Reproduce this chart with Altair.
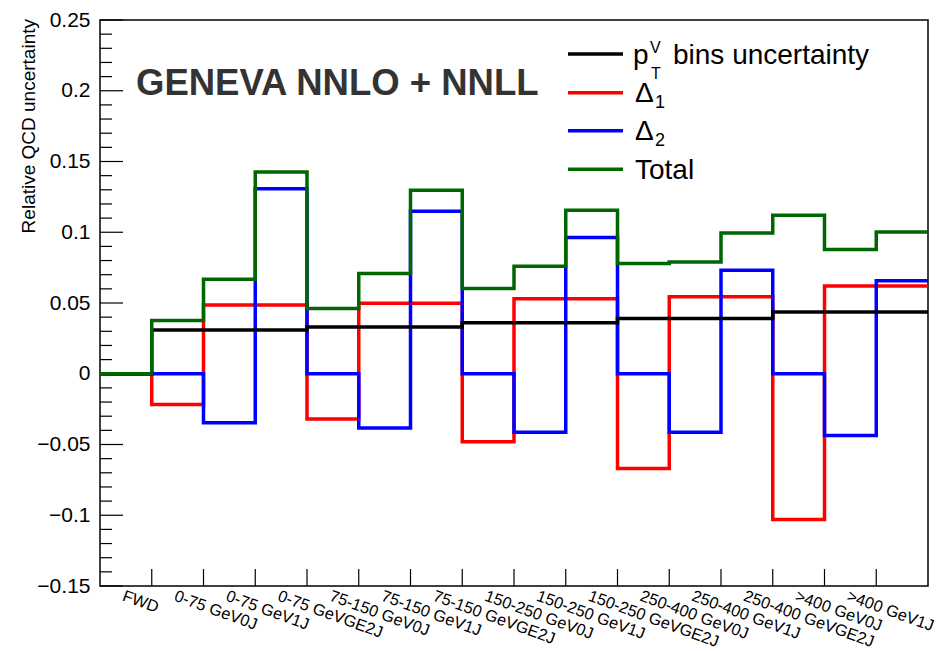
import altair as alt
import pandas as pd

# ---------------- data ----------------
bin_labels = ["FWD", "0-75 GeV0J", "0-75 GeV1J", "0-75 GeVGE2J",
              "75-150 GeV0J", "75-150 GeV1J", "75-150 GeVGE2J",
              "150-250 GeV0J", "150-250 GeV1J", "150-250 GeVGE2J",
              "250-400 GeV0J", "250-400 GeV1J", "250-400 GeVGE2J",
              ">400 GeV0J", ">400 GeV1J"]
pt_bins_unc = [0.0, 0.031, 0.031, 0.031, 0.033, 0.033, 0.033, 0.036, 0.036, 0.036,
               0.039, 0.039, 0.039, 0.0437, 0.0437, 0.0437]
delta1 = [0.0, -0.0218, 0.0486, 0.0486, -0.032, 0.0498, 0.0498, -0.048, 0.053, 0.053,
          -0.067, 0.0545, 0.0545, -0.103, 0.062, 0.062]
delta2 = [0.0, 0.0, -0.0347, 0.1308, 0.0, -0.0383, 0.1148, 0.0, -0.0413, 0.0963,
          0.0, -0.0413, 0.0732, 0.0, -0.0437, 0.0657]
total = [0.0, 0.0376, 0.0667, 0.1425, 0.0462, 0.0709, 0.1296, 0.0603, 0.076, 0.1155,
         0.078, 0.0789, 0.0995, 0.112, 0.0878, 0.1002]
y_major = [-0.15, -0.1, -0.05, 0.0, 0.05, 0.1, 0.15, 0.2, 0.25]
y_minor = [round(-0.15 + 0.01 * i, 2) for i in range(41) if i % 5 != 0]

n_bins = len(pt_bins_unc)
FONT = "Liberation Sans"

xs = alt.Scale(domain=[0, n_bins], nice=False, zero=False)
ys = alt.Scale(domain=[-0.15, 0.25], nice=False, zero=False)
yaxis = alt.Axis(values=y_major, labelExpr="replace(format(datum.value, '~g'), '-', '\u2212')",
                 ticks=False, tickSize=0, domain=False, grid=False, labelFont=FONT,
                 labelFontSize=21, labelColor="black", labelPadding=10, title=None)


def steps(vals):
    return pd.DataFrame({"x": list(range(len(vals))) + [len(vals)],
                         "v": list(vals) + [vals[-1]]})


def hist_line(vals, color):
    return alt.Chart(steps(vals)).mark_line(
        interpolate="step-after", color=color, strokeWidth=3.5, strokeJoin="miter", clip=True
    ).encode(x=alt.X("x:Q", scale=xs, axis=None), y=alt.Y("v:Q", scale=ys, axis=yaxis))


one = alt.Data(values=[{"a": 1}])

# y ticks (inside the frame)
major_ticks = alt.Chart(pd.DataFrame({"v": y_major})).mark_rule(color="black", strokeWidth=1.2).encode(
    y=alt.Y("v:Q", scale=ys, axis=yaxis), x=alt.value(0), x2=alt.value(23))
minor_ticks = alt.Chart(pd.DataFrame({"v": y_minor})).mark_rule(color="black", strokeWidth=1.2).encode(
    y=alt.Y("v:Q", scale=ys, axis=yaxis), x=alt.value(0), x2=alt.value(12))

# x ticks at bin edges
x_ticks = alt.Chart(pd.DataFrame({"e": list(range(1, n_bins))})).mark_rule(color="black", strokeWidth=1.2).encode(
    x=alt.X("e:Q", scale=xs, axis=None), y=alt.value(566), y2=alt.value(549))

# x labels at bin centres, rotated
lab_df = pd.DataFrame({"c": [i + 0.5 for i in range(len(bin_labels))], "label": bin_labels})
x_labels = alt.Chart(lab_df).mark_text(
    align="left", baseline="top", angle=20, fontSize=16.3, font=FONT, color="black"
).encode(x=alt.X("c:Q", scale=xs, axis=None), y=alt.value(568), text="label:N")


def txt(s, x, y, size, **kw):
    return alt.Chart(one).mark_text(text=s, font=FONT, fontSize=size, align=kw.pop("align", "left"),
                                    baseline=kw.pop("baseline", "alphabetic"), **kw).encode(
        x=alt.value(x), y=alt.value(y))


def leg_line(color, y):
    return alt.Chart(one).mark_rule(color=color, strokeWidth=3.5).encode(
        x=alt.value(468), x2=alt.value(523), y=alt.value(y))


title = txt("GENEVA NNLO + NNLL", 36, 75, 36.5, fontWeight="bold", color="#333333")
ytitle = txt("Relative QCD uncertainty", -65, -1, 19, angle=270, align="right", color="black")

legend = [
    leg_line("black", 34), txt("p", 533, 44, 28, color="black"),
    txt("V", 550, 33, 16, color="black"), txt("T", 551, 59, 16, color="black"),
    txt("bins uncertainty", 573, 44, 28, color="black"),
    leg_line("#ff0000", 72.7), txt("\u0394", 535, 82, 28, color="black"), txt("1", 555, 88, 18, color="black"),
    leg_line("#0000ff", 110.7), txt("\u0394", 535, 120.4, 28, color="black"), txt("2", 555, 126.4, 18, color="black"),
    leg_line("#006600", 149.3), txt("Total", 535, 158.8, 28, color="black"),
]

chart = alt.layer(
    major_ticks, minor_ticks, x_ticks,
    hist_line(delta1, "#ff0000"),
    hist_line(delta2, "#0000ff"),
    hist_line(pt_bins_unc, "#000000"),
    hist_line(total, "#006600"),
    x_labels, title, ytitle, *legend
).properties(
    width=828, height=566,
    padding={"left": 100, "top": 20, "right": 15, "bottom": 65},
    autosize=alt.AutoSizeParams(type="none"),
    background="white",
).configure_view(stroke="black", strokeWidth=1.5)

chart.save("out.html", embed_options={"renderer": "svg", "actions": False})
